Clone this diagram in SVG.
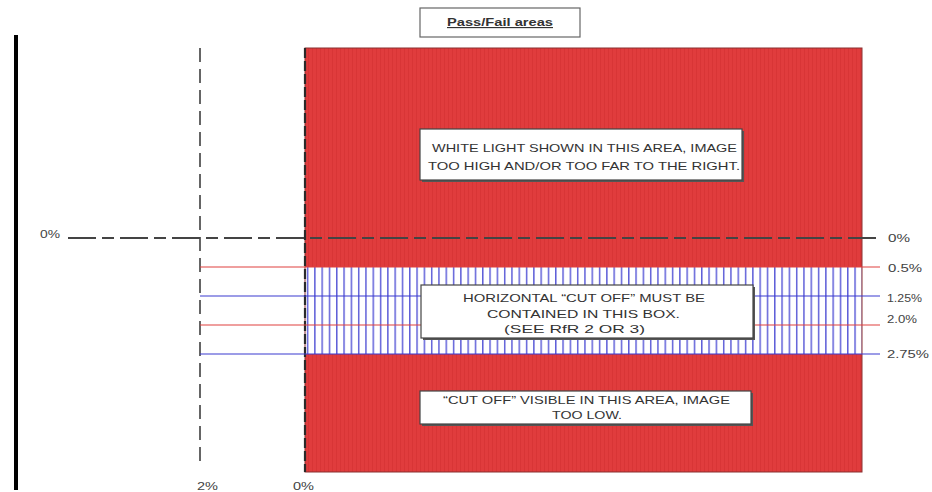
<svg xmlns="http://www.w3.org/2000/svg" width="932" height="492" viewBox="0 0 932 492">
<defs>
<pattern id="stripes" x="0" y="0" width="4" height="10" patternUnits="userSpaceOnUse">
<rect width="4" height="10" fill="#e03c3d"/>
<rect width="1" height="10" fill="#d83536"/>
</pattern>
<pattern id="hatch" x="305" y="0" width="7.3" height="10" patternUnits="userSpaceOnUse">
<rect width="7.3" height="10" fill="#ffffff"/>
<rect x="2" width="1.2" height="10" fill="#3a3ad0"/>
</pattern>
</defs>
<style>
.lbl{font-family:"Liberation Sans",Arial,sans-serif;font-size:11.5px;fill:#444}
.box{fill:#fff;stroke:#444;stroke-width:1.2}
.shadow{fill:#555}
.btxt{font-family:"Liberation Sans",Arial,sans-serif;font-size:11.5px;fill:#333}
.red{stroke:#e0403f;stroke-width:1.2}
.blue{stroke:#3a3ad0;stroke-width:1.2}
</style>
<rect width="932" height="492" fill="#fff"/>
<g id="title">
<rect x="420" y="8" width="160" height="29" fill="#fff" stroke="#666" stroke-width="1.2"/>
<text x="447" y="26" textLength="106" lengthAdjust="spacingAndGlyphs" font-family="Liberation Sans, Arial, sans-serif" font-size="11.5" font-weight="bold" fill="#333" text-decoration="underline">Pass/Fail areas</text>
</g>
<g id="leftbar"><rect x="14" y="35" width="4" height="455" fill="#000"/></g>
<g id="fail-area">
<rect x="305" y="48" width="557" height="424" fill="url(#stripes)"/>
</g>
<g id="pass-band">
<rect x="305" y="267" width="557" height="87" fill="url(#hatch)"/>
</g>
<rect x="305" y="48" width="557" height="424" fill="none" stroke="#8a3030" stroke-width="1"/>
<g id="connectors">
<line x1="200" y1="48" x2="200" y2="468" stroke="#333" stroke-width="1.5" stroke-dasharray="14,7"/>
<line x1="305" y1="48" x2="305" y2="472" stroke="#2a2a2a" stroke-width="2.2" stroke-dasharray="10,3"/>
<line x1="68" y1="238" x2="880" y2="238" stroke="#444" stroke-width="1.8" stroke-dasharray="28,6,12,6"/>
<line class="red" x1="200" y1="267" x2="880" y2="267"/>
<line class="blue" x1="200" y1="296" x2="880" y2="296"/>
<line class="red" x1="200" y1="325" x2="880" y2="325"/>
<line class="blue" x1="200" y1="354" x2="880" y2="354"/>
</g>
<g id="box-top">
<rect class="shadow" x="422" y="131" width="322" height="51"/>
<rect class="box" x="420" y="129" width="322" height="51"/>
<text class="btxt" x="432" y="152" textLength="305" lengthAdjust="spacingAndGlyphs">WHITE LIGHT SHOWN IN THIS AREA, IMAGE</text>
<text class="btxt" x="428" y="170" textLength="312" lengthAdjust="spacingAndGlyphs">TOO HIGH AND/OR TOO FAR TO THE RIGHT.</text>
</g>
<g id="box-mid">
<rect class="shadow" x="423" y="287" width="332" height="53"/>
<rect class="box" x="421" y="285" width="332" height="53"/>
<text class="btxt" x="463" y="302" textLength="242" lengthAdjust="spacingAndGlyphs">HORIZONTAL “CUT OFF” MUST BE</text>
<text class="btxt" x="487" y="318" textLength="193" lengthAdjust="spacingAndGlyphs">CONTAINED IN THIS BOX.</text>
<text class="btxt" x="504" y="333" textLength="141" lengthAdjust="spacingAndGlyphs">(SEE RfR 2 OR 3)</text>
</g>
<g id="box-bottom">
<rect class="shadow" x="422" y="393" width="331" height="33"/>
<rect class="box" x="420" y="391" width="331" height="33"/>
<text class="btxt" x="443" y="404" textLength="287" lengthAdjust="spacingAndGlyphs">“CUT OFF” VISIBLE IN THIS AREA, IMAGE</text>
<text class="btxt" x="552" y="419" textLength="70" lengthAdjust="spacingAndGlyphs">TOO LOW.</text>
</g>
<g id="labels">
<text class="lbl" x="40" y="238" textLength="20" lengthAdjust="spacingAndGlyphs">0%</text>
<text class="lbl" x="888" y="242" textLength="22" lengthAdjust="spacingAndGlyphs">0%</text>
<text class="lbl" x="888" y="272" textLength="34" lengthAdjust="spacingAndGlyphs">0.5%</text>
<text class="lbl" x="887" y="302" textLength="35" lengthAdjust="spacingAndGlyphs">1.25%</text>
<text class="lbl" x="887" y="323" textLength="30" lengthAdjust="spacingAndGlyphs">2.0%</text>
<text class="lbl" x="887" y="358" textLength="42" lengthAdjust="spacingAndGlyphs">2.75%</text>
<text class="lbl" x="197" y="490" textLength="21" lengthAdjust="spacingAndGlyphs">2%</text>
<text class="lbl" x="293" y="490" textLength="21" lengthAdjust="spacingAndGlyphs">0%</text>
</g>
</svg>
